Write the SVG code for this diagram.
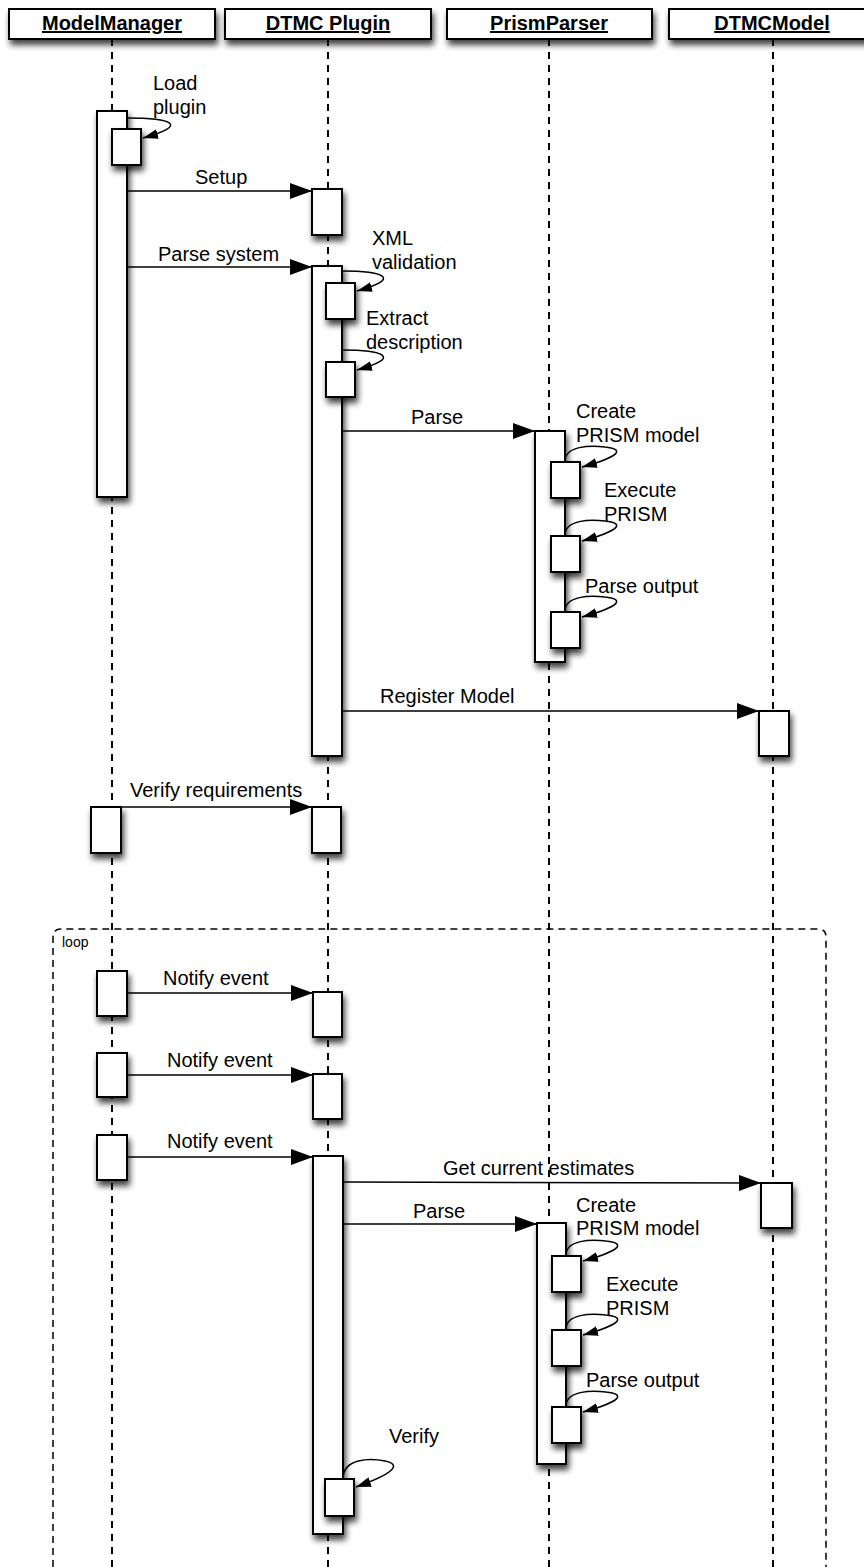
<svg xmlns="http://www.w3.org/2000/svg" width="864" height="1567" viewBox="0 0 864 1567">
<style>
.hdr{fill:#fff;stroke:#000;stroke-width:2}
.htxt{font-family:"Liberation Sans",Arial,sans-serif;font-size:20px;font-weight:bold;text-anchor:middle;text-decoration:underline;fill:#000}
.life{stroke:#000;stroke-width:2;stroke-dasharray:7,6;fill:none}
.act{fill:#fff;stroke:#000;stroke-width:2}
.msg{stroke:#000;stroke-width:1.5;fill:none;marker-end:url(#arr)}
.self{stroke:#000;stroke-width:1.5;fill:none;marker-end:url(#sarr)}
.lbl{font-family:"Liberation Sans",Arial,sans-serif;font-size:20px;fill:#000}
.loop{stroke:#000;stroke-width:1.5;stroke-dasharray:7,5;fill:none}
.ltxt{font-family:"Liberation Sans",Arial,sans-serif;font-size:14px;fill:#000}
</style>
<defs>
<filter id="sh" x="-40%" y="-20%" width="190%" height="160%">
<feGaussianBlur in="SourceAlpha" stdDeviation="3"/>
<feOffset dx="2" dy="5" result="b"/>
<feComponentTransfer><feFuncA type="linear" slope="0.75"/></feComponentTransfer>
<feMerge><feMergeNode/><feMergeNode in="SourceGraphic"/></feMerge>
</filter>
<marker id="arr" viewBox="0 0 22 16" refX="22" refY="8" markerWidth="22" markerHeight="16" markerUnits="userSpaceOnUse" orient="auto"><path d="M0,0 L22,8 L0,16 z" fill="#000"/></marker>
<marker id="sarr" viewBox="0 0 15 10" refX="15" refY="5" markerWidth="15" markerHeight="10" markerUnits="userSpaceOnUse" orient="auto"><path d="M0,0 L15,5 L0,10 z" fill="#000"/></marker>
</defs>
<rect width="864" height="1567" fill="#fff"/>

<g id="lifelines">
<line class="life" x1="112" y1="39" x2="112" y2="1567"/>
<line class="life" x1="328" y1="39" x2="328" y2="1567"/>
<line class="life" x1="549" y1="39" x2="549" y2="1567"/>
<line class="life" x1="773" y1="39" x2="773" y2="1567"/>
</g>

<g id="loop-frame">
<path class="loop" d="M53,1567 L53,937 Q53,929 61,929 L818,929 Q826,929 826,937 L826,1567"/>
<text class="ltxt" x="62" y="947">loop</text>
</g>

<g id="ModelManager">
<rect class="hdr" x="9" y="9" width="206" height="30" filter="url(#sh)"/>
<text class="htxt" x="112" y="30">ModelManager</text>
</g>
<g id="DTMCPlugin">
<rect class="hdr" x="225" y="9" width="206" height="30" filter="url(#sh)"/>
<text class="htxt" x="328" y="30">DTMC Plugin</text>
</g>
<g id="PrismParser">
<rect class="hdr" x="447" y="9" width="205" height="30" filter="url(#sh)"/>
<text class="htxt" x="549" y="30">PrismParser</text>
</g>
<g id="DTMCModel">
<rect class="hdr" x="669" y="9" width="206" height="30" filter="url(#sh)"/>
<text class="htxt" x="772" y="30">DTMCModel</text>
</g>

<g id="activations">
<rect class="act" x="97" y="111" width="30" height="386" filter="url(#sh)"/>
<rect class="act" x="112" y="129" width="29" height="36" filter="url(#sh)"/>
<rect class="act" x="312" y="189" width="30" height="46" filter="url(#sh)"/>
<rect class="act" x="312" y="266" width="30" height="490" filter="url(#sh)"/>
<rect class="act" x="326" y="283" width="29" height="36" filter="url(#sh)"/>
<rect class="act" x="326" y="362" width="29" height="35" filter="url(#sh)"/>
<rect class="act" x="535" y="431" width="30" height="231" filter="url(#sh)"/>
<rect class="act" x="551" y="462" width="29" height="36" filter="url(#sh)"/>
<rect class="act" x="551" y="536" width="29" height="36" filter="url(#sh)"/>
<rect class="act" x="551" y="612" width="29" height="36" filter="url(#sh)"/>
<rect class="act" x="759" y="711" width="30" height="45" filter="url(#sh)"/>
<rect class="act" x="91" y="807" width="30" height="46" filter="url(#sh)"/>
<rect class="act" x="312" y="807" width="29" height="46" filter="url(#sh)"/>
<rect class="act" x="97" y="971" width="30" height="45" filter="url(#sh)"/>
<rect class="act" x="313" y="992" width="29" height="45" filter="url(#sh)"/>
<rect class="act" x="97" y="1053" width="30" height="44" filter="url(#sh)"/>
<rect class="act" x="313" y="1074" width="29" height="45" filter="url(#sh)"/>
<rect class="act" x="97" y="1135" width="30" height="45" filter="url(#sh)"/>
<rect class="act" x="313" y="1156" width="30" height="378" filter="url(#sh)"/>
<rect class="act" x="325" y="1479" width="29" height="37" filter="url(#sh)"/>
<rect class="act" x="761" y="1183" width="31" height="45" filter="url(#sh)"/>
<rect class="act" x="537" y="1223" width="29" height="241" filter="url(#sh)"/>
<rect class="act" x="552" y="1256" width="29" height="36" filter="url(#sh)"/>
<rect class="act" x="552" y="1330" width="29" height="36" filter="url(#sh)"/>
<rect class="act" x="552" y="1407" width="29" height="36" filter="url(#sh)"/>
</g>

<g id="connectors">
<path class="self" d="M127,118 C172,118 190,125 143,138"/>
<line class="msg" x1="127" y1="191" x2="312" y2="191"/>
<line class="msg" x1="127" y1="267" x2="312" y2="267"/>
<path class="self" d="M342,271 C382,271 404,278 357,291"/>
<path class="self" d="M342,350 C382,350 404,357 357,370"/>
<line class="msg" x1="342" y1="431" x2="535" y2="431"/>
<path class="self" d="M565,461 C565,446 590,445 605,447 C624,449 622,456 582,467"/>
<path class="self" d="M565,535 C565,520 590,519 605,521 C624,523 622,530 582,541"/>
<path class="self" d="M565,611 C565,596 590,595 605,597 C624,599 622,606 582,617"/>
<line class="msg" x1="342" y1="711" x2="759" y2="711"/>
<line class="msg" x1="121" y1="807" x2="312" y2="807"/>
<line class="msg" x1="127" y1="993" x2="313" y2="993"/>
<line class="msg" x1="127" y1="1075" x2="313" y2="1075"/>
<line class="msg" x1="127" y1="1157" x2="313" y2="1157"/>
<line class="msg" x1="343" y1="1182" x2="761" y2="1183"/>
<line class="msg" x1="343" y1="1224" x2="537" y2="1224"/>
<path class="self" d="M566,1255 C566,1240 591,1239 606,1241 C625,1243 623,1250 583,1261"/>
<path class="self" d="M566,1329 C566,1314 591,1313 606,1315 C625,1317 623,1324 583,1335"/>
<path class="self" d="M566,1406 C566,1391 591,1390 606,1392 C625,1394 623,1401 583,1412"/>
<path class="self" d="M343,1479 C343,1458 370,1458 385,1461 C400,1464 398,1472 356,1487"/>
</g>

<g id="labels">
<text class="lbl" x="153" y="90">Load</text>
<text class="lbl" x="153" y="114">plugin</text>
<text class="lbl" x="195" y="184">Setup</text>
<text class="lbl" x="158" y="261">Parse system</text>
<text class="lbl" x="372" y="245">XML</text>
<text class="lbl" x="372" y="269">validation</text>
<text class="lbl" x="366" y="325">Extract</text>
<text class="lbl" x="366" y="349">description</text>
<text class="lbl" x="411" y="424">Parse</text>
<text class="lbl" x="576" y="418">Create</text>
<text class="lbl" x="576" y="442">PRISM model</text>
<text class="lbl" x="604" y="497">Execute</text>
<text class="lbl" x="604" y="521">PRISM</text>
<text class="lbl" x="585" y="593">Parse output</text>
<text class="lbl" x="380" y="703">Register Model</text>
<text class="lbl" x="130" y="797">Verify requirements</text>
<text class="lbl" x="163" y="985">Notify event</text>
<text class="lbl" x="167" y="1067">Notify event</text>
<text class="lbl" x="167" y="1148">Notify event</text>
<text class="lbl" x="443" y="1175">Get current estimates</text>
<text class="lbl" x="413" y="1218">Parse</text>
<text class="lbl" x="576" y="1212">Create</text>
<text class="lbl" x="576" y="1235">PRISM model</text>
<text class="lbl" x="606" y="1291">Execute</text>
<text class="lbl" x="606" y="1315">PRISM</text>
<text class="lbl" x="586" y="1387">Parse output</text>
<text class="lbl" x="389" y="1443">Verify</text>
</g>
</svg>
